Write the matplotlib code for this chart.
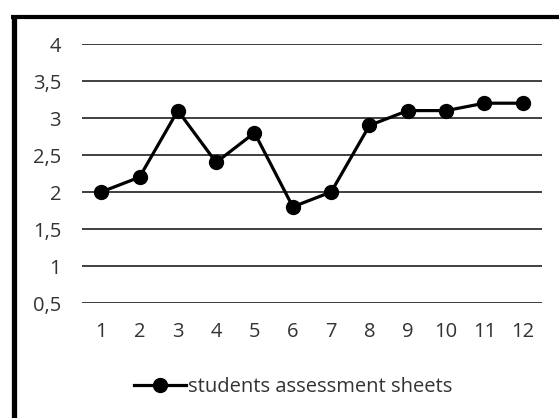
import matplotlib
matplotlib.use("Agg")
import matplotlib.pyplot as plt
from matplotlib.lines import Line2D

categories = list(range(1, 13))
values = [2.0, 2.2, 3.1, 2.4, 2.8, 1.8, 2.0, 2.9, 3.1, 3.1, 3.2, 3.2]
yticks = [0.5, 1, 1.5, 2, 2.5, 3, 3.5, 4]
ytick_labels = ["0,5", "1", "1,5", "2", "2,5", "3", "3,5", "4"]
series_name = "students assessment sheets"

W, H = 559, 418
fig = plt.figure(figsize=(W / 100, H / 100), dpi=100)
plt.rcParams['font.family'] = ['Open Sans', 'DejaVu Sans']

ax = fig.add_axes([82 / W, 1 - 303 / H, (542 - 82) / W, (303 - 44) / H])
ax.set_xlim(0.5, 12.5)
ax.set_ylim(0.5, 4)
ax.set_yticks(yticks)
ax.set_yticklabels(ytick_labels)
ax.set_xticks(categories)
ax.set_xticklabels([str(c) for c in categories])
for s in ax.spines.values():
    s.set_visible(False)
ax.tick_params(axis='both', length=0, labelsize=14.5, colors='#333333')
ax.tick_params(axis='y', pad=15)
ax.tick_params(axis='x', pad=14)
ax.grid(axis='y', color='#303030', linewidth=1.3)
ax.set_axisbelow(True)

line, = ax.plot(categories, values, color='black', linewidth=2.3, marker='o',
                markersize=10, label=series_name, clip_on=False)

fig.legend(handles=[line], loc='center left', bbox_to_anchor=(134 / W, 1 - 387 / H),
           frameon=False, fontsize=14.5, handlelength=2.6, handletextpad=0.1,
           borderpad=0, borderaxespad=0, labelcolor='#333333')

# chart border (top and left)
fig.add_artist(Line2D([13.5 / W, 13.5 / W], [1 - 16 / H, 0], color='black',
                      linewidth=3.8, transform=fig.transFigure, solid_capstyle='butt'))
fig.add_artist(Line2D([11 / W, 1], [1 - 17 / H, 1 - 17 / H], color='black',
                      linewidth=3.0, transform=fig.transFigure, solid_capstyle='butt'))

fig.savefig("out.png", dpi=100)
